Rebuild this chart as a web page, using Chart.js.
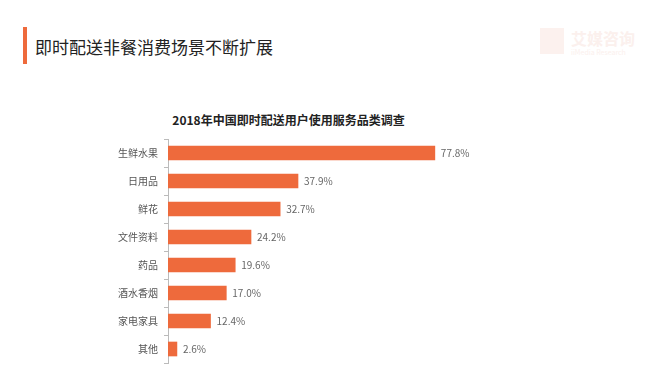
<!DOCTYPE html>
<html lang="zh">
<head>
<meta charset="UTF-8">
<title>即时配送非餐消费场景不断扩展</title>
<script src="https://cdn.jsdelivr.net/npm/chart.js"></script>
<style>
  body { margin: 0; background: #fff; font-family: "Noto Sans CJK SC", sans-serif; }
  #wrap { position: relative; width: 657px; height: 375px; overflow: hidden; }
  #bar { position: absolute; left: 23px; top: 27px; width: 4px; height: 37px; background: #EE6A3C; }
  #heading { position: absolute; left: 35px; top: 38px; font-size: 17px; color: #222; line-height: 1; }
  #subtitle { position: absolute; left: 0; width: 577px; top: 114px; text-align: center; font-size: 12px; font-weight: bold; color: #222; line-height: 1; }
  #logo { position: absolute; left: 540px; top: 28px; color: #fbf0ed; font-size: 16px; font-weight: bold; line-height: 1; }
  #logo .icon { position: absolute; left: 0; top: 0; width: 24px; height: 26px; background: #fcf1ee; }
  #logo .name { position: absolute; left: 31px; top: 2px; white-space: nowrap; }
  #logo .en { position: absolute; left: 31px; top: 21px; font-size: 7px; font-weight: normal; white-space: nowrap; }
  canvas { position: absolute; left: 0; top: 0; }
</style>
</head>
<body>
<div id="wrap">
  <div id="bar"></div>
  <div id="heading">即时配送非餐消费场景不断扩展</div>
  <div id="logo"><div class="icon"></div><div class="name">艾媒咨询</div><div class="en">iiMedia Research</div></div>
  <div id="subtitle">2018年中国即时配送用户使用服务品类调查</div>
  <canvas id="myChart" width="657" height="375"></canvas>
</div>
<script>
// categories (top to bottom) and share of users, %
const categories = ['生鲜水果', '日用品', '鲜花', '文件资料', '药品', '酒水香烟', '家电家具', '其他'];
const shares = [77.8, 37.9, 32.7, 24.2, 19.6, 17.0, 12.4, 2.6];

// draw "xx.x%" after each bar
const valueLabels = {
  id: 'valueLabels',
  afterDatasetsDraw(chart) {
    const ctx = chart.ctx;
    const meta = chart.getDatasetMeta(0);
    ctx.save();
    ctx.font = '10px "Noto Sans CJK SC", sans-serif';
    ctx.fillStyle = '#666';
    ctx.textBaseline = 'middle';
    meta.data.forEach((bar, i) => {
      ctx.fillText(shares[i].toFixed(1) + '%', bar.x + 6, bar.y);
    });
    ctx.restore();
  }
};

const ctx = document.getElementById('myChart').getContext('2d');
new Chart(ctx, {
  type: 'bar',
  data: {
    labels: categories,
    datasets: [{
      data: shares,
      backgroundColor: '#EE6A3C',
      barThickness: 14
    }]
  },
  options: {
    indexAxis: 'y',
    responsive: false,
    animation: false,
    layout: { padding: { left: 100, right: 146, top: 139, bottom: 12 } },
    plugins: { legend: { display: false }, tooltip: { enabled: false } },
    scales: {
      x: { display: false, min: 0, max: 100 },
      y: {
        afterFit: (s) => { s.width = 68; },
        grid: { drawOnChartArea: false, drawTicks: true, tickLength: 4, color: '#bbb', offset: true },
        border: { display: true, color: '#bbb' },
        ticks: { color: '#555', padding: 6, font: { size: 10, family: '"Noto Sans CJK SC", sans-serif' } }
      }
    }
  },
  plugins: [valueLabels]
});
</script>
</body>
</html>
